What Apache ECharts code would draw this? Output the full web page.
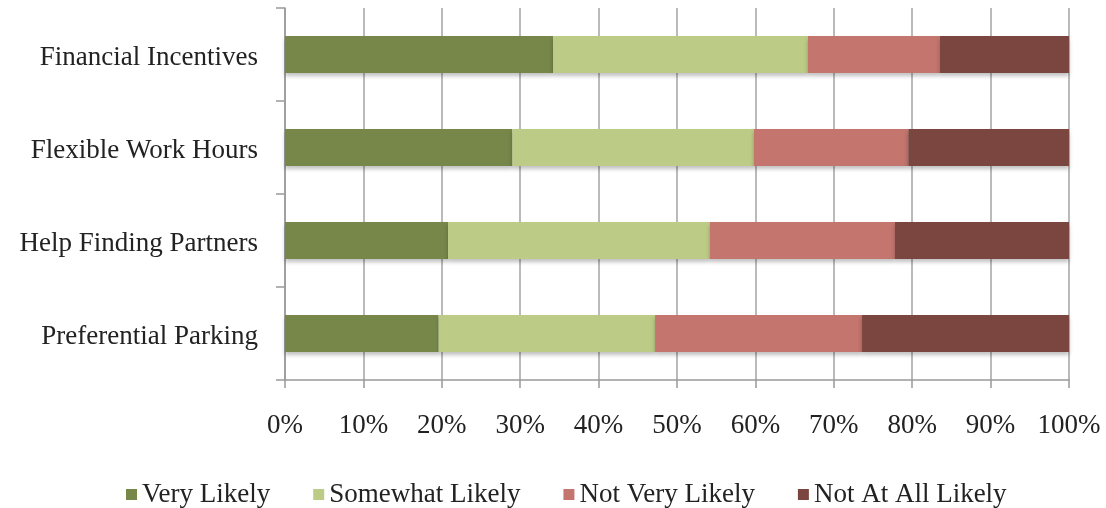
<!DOCTYPE html>
<html><head><meta charset="utf-8">
<script src="https://cdn.jsdelivr.net/npm/echarts@6/dist/echarts.min.js"></script>
<style>html,body{margin:0;padding:0;background:#fff}#c{width:1106px;height:508px}</style>
</head><body><div id="c"></div>
<script>
const categories = ["Financial Incentives","Flexible Work Hours","Help Finding Partners","Preferential Parking"];
const seriesNames = ["Very Likely","Somewhat Likely","Not Very Likely","Not At All Likely"];
const veryLikely = [34.2, 29.0, 20.8, 19.6];
const somewhatLikely = [32.5, 30.8, 33.4, 27.6];
const notVeryLikely = [16.8, 19.7, 23.6, 26.4];
const notAtAllLikely = [16.5, 20.5, 22.2, 26.4];
const tickValues = [0,10,20,30,40,50,60,70,80,90,100];
const colors = ["#77874A","#BCCB86","#C4756D","#7B463F"];
const font = "Liberation Serif";
const values = [veryLikely, somewhatLikely, notVeryLikely, notAtAllLikely];
const chart = echarts.init(document.getElementById('c'));
chart.setOption({
  animation:false,
  color: colors,
  textStyle:{fontFamily:font},
  grid:{left:285,right:37,top:8,bottom:128,containLabel:false},
  legend:{
    top:476, left:121, itemWidth:11, itemHeight:11, itemGap:43, icon:'rect',
    textStyle:{fontFamily:font,fontSize:27,color:'#222'},
    data: seriesNames
  },
  xAxis:{
    type:'value', min:0, max:100, interval:10,
    axisLine:{show:true,lineStyle:{color:'#999',width:1.5}},
    axisTick:{show:true,length:8,lineStyle:{color:'#999',width:1.5}},
    splitLine:{show:true,lineStyle:{color:'#a3a3a3',width:1.5}},
    axisLabel:{fontFamily:font,fontSize:27,color:'#222',margin:32,
      formatter:v=> tickValues.includes(v)? v+'%':''}
  },
  yAxis:{
    type:'category', data:categories, inverse:true,
    axisLine:{show:true,lineStyle:{color:'#999',width:1.5}},
    axisTick:{show:true,length:9,lineStyle:{color:'#999',width:1.5}},
    axisLabel:{fontFamily:font,fontSize:27,color:'#222',margin:27,
      formatter:v=>'{a|'+v+'}',
      rich:{a:{fontFamily:font,fontSize:27,color:'#222',padding:[7,0,0,0]}}}
  },
  series: seriesNames.map((n,i)=>({
    name:n, type:'bar', stack:'total', barWidth:'40%', data:values[i],
    itemStyle:{color:colors[i],shadowColor:'rgba(0,0,0,0.25)',shadowBlur:4,shadowOffsetY:3}
  }))
});
</script></body></html>
